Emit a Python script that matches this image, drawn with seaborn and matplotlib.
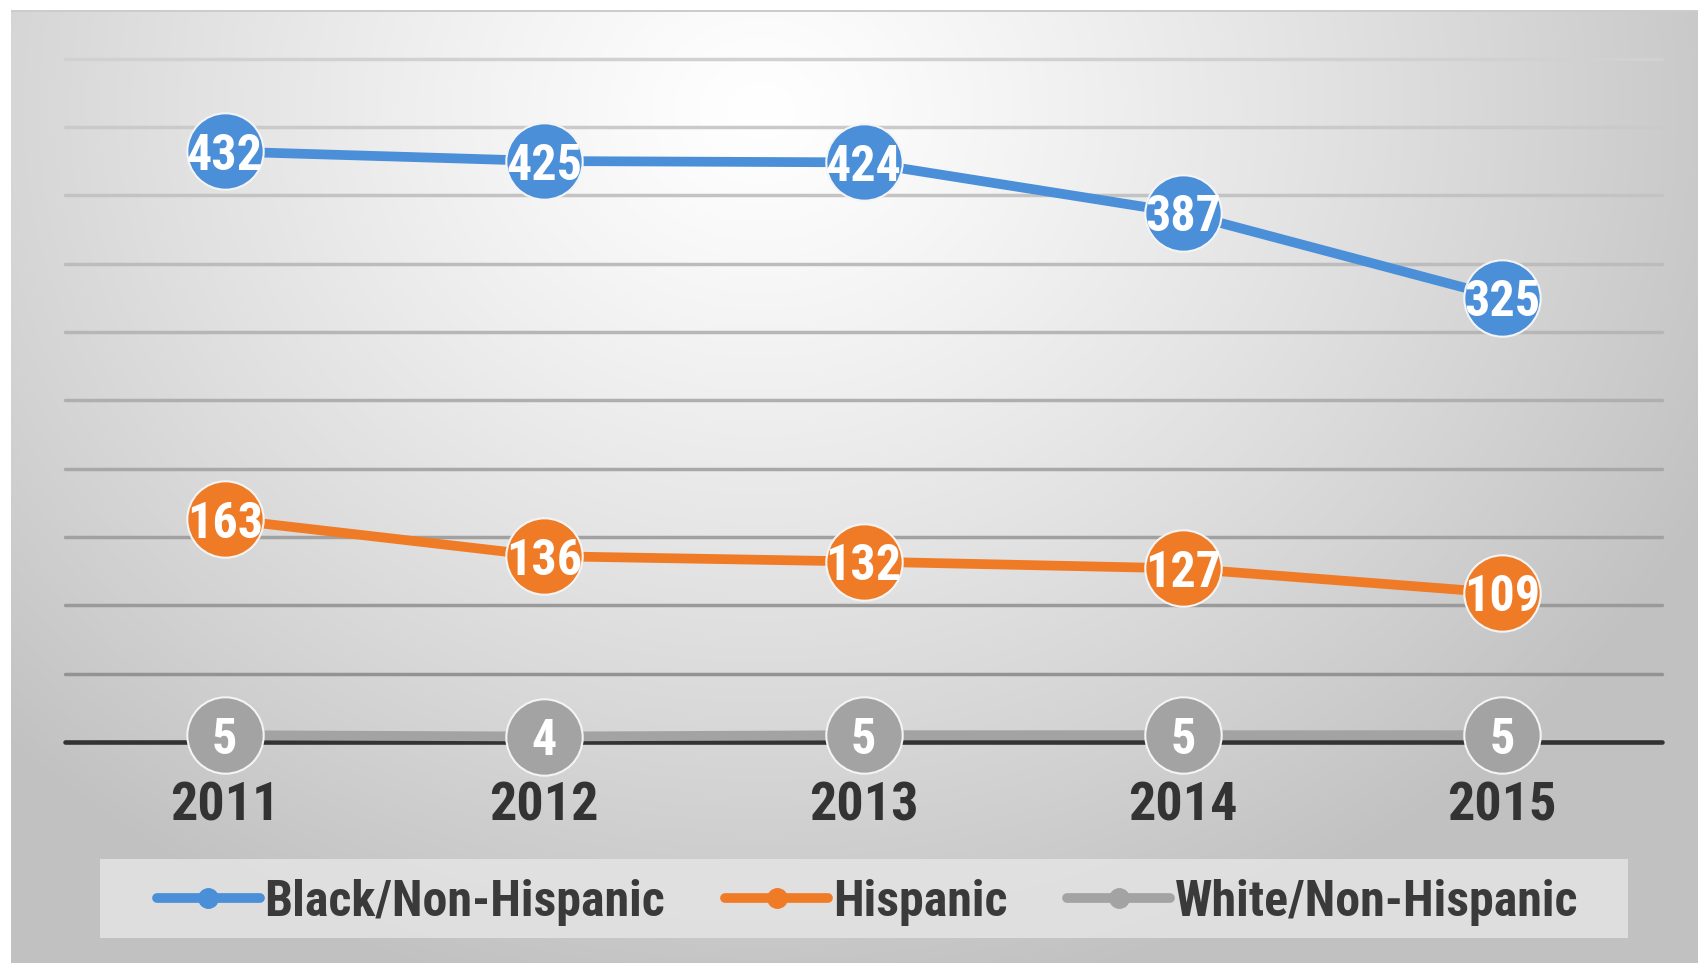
import numpy as np
import pandas as pd
import matplotlib.pyplot as plt
import seaborn as sns
from matplotlib import font_manager
from matplotlib.lines import Line2D
from matplotlib.patches import Rectangle

# ----------------------- DATA ----------------------
years = ["2011", "2012", "2013", "2014", "2015"]
black = [432, 425, 424, 387, 325]
hispanic = [163, 136, 132, 127, 109]
white = [5, 4, 5, 5, 5]
groups = ["Black/Non-Hispanic", "Hispanic", "White/Non-Hispanic"]
colors = ["#4a8fd8", "#f07b26", "#a3a3a3"]

df = pd.DataFrame({
    "Year": years * 3,
    "Count": black + hispanic + white,
    "Group": [groups[0]] * 5 + [groups[1]] * 5 + [groups[2]] * 5,
})

# ----------------------- FONT ----------------------
# narrow font like Arial Narrow, take the first one that is installed
installed = {f.name for f in font_manager.fontManager.ttflist}
narrow = [n for n in ["Liberation Sans Narrow", "Roboto Condensed", "Archivo Narrow",
                      "PT Sans Narrow", "Sofia Sans Condensed", "Liberation Sans"]
          if n in installed]
font_name = narrow[0] if narrow else "DejaVu Sans"

# ----------------------- FIGURE / BACKGROUND ----------------------
sns.set_style("white")
plt.rcParams["font.family"] = [font_name, "DejaVu Sans"]

W, H = 1698, 963
fig = plt.figure(figsize=(W / 100, H / 100), dpi=100)
fig.patch.set_facecolor("white")

bg = fig.add_axes([0, 0, 1, 1], zorder=-10)
yy, xx = np.mgrid[0:H, 0:W]
d = np.sqrt(((xx - 760) / 1050.0) ** 2 + ((yy - 110) / 900.0) ** 2)
shade = 1.0 - 0.24 * np.clip(d, 0, 1) ** 1.2
img = np.dstack([shade] * 3)
img[:10, :, :] = 1.0
img[:, :11, :] = 1.0
img[10:12, 11:, :] = 0.8
bg.imshow(img, aspect="auto", extent=[0, W, H, 0], interpolation="bilinear")
bg.set_xlim(0, W)
bg.set_ylim(H, 0)
bg.axis("off")

# ----------------------- MAIN AXES ----------------------
ax = fig.add_axes([65 / W, (H - 742) / H, (1662 - 65) / W, (742 - 58.5) / H])
ax.set_facecolor("none")

palette = dict(zip(groups, colors))
sns.lineplot(data=df, x="Year", y="Count", hue="Group", palette=palette,
             sort=False, marker="o", markersize=55, linewidth=7,
             markeredgewidth=1.5, markeredgecolor="#f4f4f4",
             legend=False, ax=ax, clip_on=False, zorder=5)

# data labels
for g, vals in zip(groups, [black, hispanic, white]):
    for i, v in enumerate(vals):
        ax.text(i, v, str(v), ha="center", va="center_baseline", color="white",
                fontsize=36, fontweight="bold", zorder=10)

ax.set_xlim(-0.5, 4.5)
ax.set_ylim(0, 500)
ax.set_yticks(range(0, 501, 50))
ax.yaxis.grid(True)
ax.set_axisbelow(True)
ax.set_yticklabels([])
ax.tick_params(axis="y", length=0)
grid_cols = np.linspace(0.55, 0.82, 11)
for i, gl in enumerate(ax.get_ygridlines()):
    gl.set_clip_on(False)
    if i == 0:
        gl.set_color("#333333")
        gl.set_linewidth(3.3)
    else:
        gl.set_color(str(grid_cols[i]))
        gl.set_linewidth(2.5)

ax.set_xlabel("")
ax.set_ylabel("")
ax.tick_params(axis="x", length=0, pad=28, labelsize=39, labelcolor="#333333")
for lab in ax.get_xticklabels():
    lab.set_fontweight("bold")
sns.despine(ax=ax, left=True, bottom=True)

# ----------------------- LEGEND ----------------------
fig.patches.append(Rectangle((100 / W, (H - 938) / H), 1528 / W, 79 / H,
                             transform=fig.transFigure, facecolor="#e6e6e6",
                             edgecolor="none", alpha=0.8, zorder=1))
handles = [Line2D([0], [0], color=c, linewidth=7, marker="o", markersize=14)
           for c in colors]
leg = fig.legend(handles, groups, loc="center", bbox_to_anchor=(0.511, 0.063),
                 ncol=3, frameon=False, handlelength=2.05, handletextpad=0.1,
                 columnspacing=1.2, prop={"size": 36, "weight": "bold"})
for t in leg.get_texts():
    t.set_color("#3a3a3a")

fig.savefig("out.png", dpi=100)
